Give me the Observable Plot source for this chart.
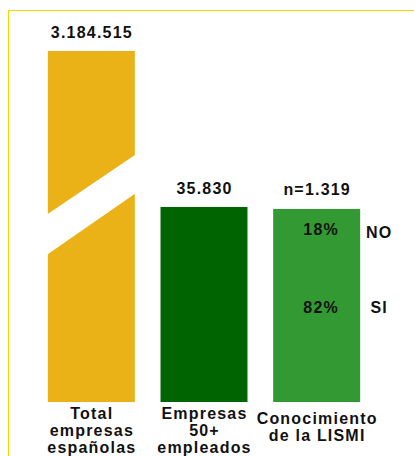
<!DOCTYPE html>
<html>
<head>
<meta charset="utf-8">
<script src="https://cdn.jsdelivr.net/npm/d3@7"></script>
<script src="https://cdn.jsdelivr.net/npm/@observablehq/plot@0.6"></script>
<style>
  html, body { margin: 0; padding: 0; background: #fff; }
  #wrap { position: relative; width: 414px; height: 456px; overflow: hidden; }
  #frame { position: absolute; left: 8px; top: 10px; right: -4px; bottom: -4px;
           border-top: 1.5px solid #FFD300; border-left: 1.5px solid #FFD300; pointer-events: none; }
  svg text { letter-spacing: 1.2px; }
</style>
</head>
<body>
<div id="wrap"><div id="frame"></div></div>
<script>
// Data
const categories = ["Total\nempresas\nespañolas", "Empresas\n50+\nempleados", "Conocimiento\nde la LISMI"];
const valueLabels = ["3.184.515", "35.830", "n=1.319"];
const values = [3184515, 35830, 1319];
// display heights (axis is broken; bar 1 not to scale)
const displayHeights = [180, 100, 99];
const colors = ["#EBB217", "#006400", "#339933"];
const shareLabels = ["SI", "NO"];
const shares = [82, 18];
// break marker on bar 1 (in display units)
const breakX = [-0.4, 0.4];
const breakBottom = [75.3, 107.3];
const breakTop = [95.9, 127.2];

const hw = 0.386;
const bars = categories.map((c, i) => ({i, c, label: valueLabels[i], value: values[i], h: displayHeights[i], color: colors[i]}));
const brk = breakX.map((x, k) => ({x, y1: breakBottom[k], y2: breakTop[k]}));

// stacked shares on bar 3, scaled to its display height
let acc = 0;
const seg = shareLabels.map((s, k) => {
  const lo = acc; acc += shares[k];
  const scale = displayHeights[2] / 100;
  return {name: s, pct: shares[k] + "%", mid: (lo + shares[k] / 2) * scale};
});

const font = {fontFamily: "Liberation Sans, Arial, sans-serif", fontWeight: "bold", fontSize: 16, fill: "#111"};

const chart = Plot.plot({
  width: 414,
  height: 456,
  marginLeft: 35,
  marginRight: 41,
  marginTop: 12,
  marginBottom: 54,
  x: {type: "linear", domain: [-0.5, 2.5], axis: null},
  y: {domain: [0, 200], axis: null},
  color: {type: "identity"},
  style: {background: "transparent", overflow: "visible"},
  marks: [
    Plot.rectY(bars, {x1: d => d.i - hw, x2: d => d.i + hw, y: "h", fill: "color"}),
    Plot.areaY(brk, {x: "x", y1: "y1", y2: "y2", fill: "white"}),
    Plot.text(bars, {x: "i", y: "h", text: "label", lineAnchor: "bottom", dy: -14, ...font}),
    Plot.text(bars.filter(d => d.i < 2), {x: "i", y: 0, text: "c", lineAnchor: "top", dy: 4, lineHeight: 1.07, ...font}),
    Plot.text(bars.filter(d => d.i === 2), {x: "i", y: 0, text: "c", lineAnchor: "top", dy: 9, lineHeight: 1.07, ...font}),
    Plot.text(seg.filter(d => d.name === "NO"), {x: 2, y: "mid", text: "pct", dx: 4, dy: 3, ...font}),
    Plot.text(seg.filter(d => d.name === "SI"), {x: 2, y: "mid", text: "pct", dx: 4, dy: -15, ...font}),
    Plot.text(seg.filter(d => d.name === "NO"), {x: 2, y: "mid", text: "name", dx: 62, dy: 6, ...font}),
    Plot.text(seg.filter(d => d.name === "SI"), {x: 2, y: "mid", text: "name", dx: 62, dy: -15, ...font})
  ]
});
document.getElementById("wrap").prepend(chart);
</script>
</body>
</html>
